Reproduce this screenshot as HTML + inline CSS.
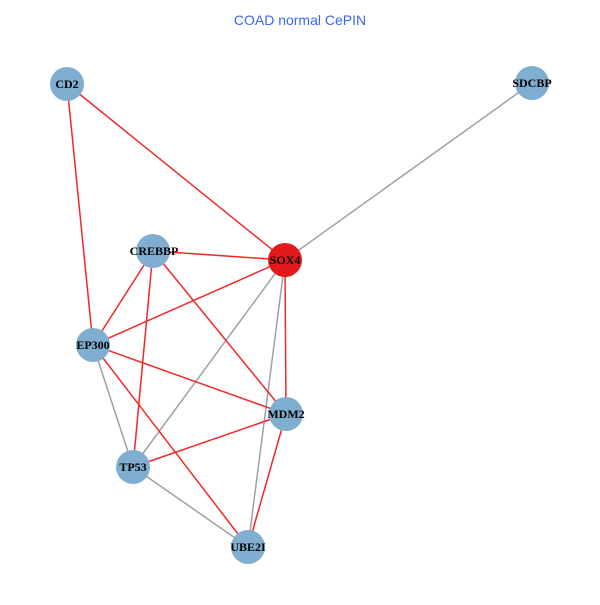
<!DOCTYPE html>
<html><head><style>body{margin:0;background:#fff}</style></head><body>
<svg width="600" height="600" xmlns="http://www.w3.org/2000/svg">
<rect width="600" height="600" fill="#fff"/>
<text x="300" y="25" text-anchor="middle" font-family="Liberation Sans, sans-serif" font-size="14" fill="#3a66f0">COAD normal CePIN</text>
<g stroke-width="1.5" fill="none">
<g stroke="#a0a0a0">
<line x1="532" y1="83" x2="285" y2="260"/>
<line x1="285" y1="260" x2="133" y2="467"/>
<line x1="285" y1="260" x2="248" y2="547"/>
<line x1="93" y1="345" x2="133" y2="467"/>
<line x1="133" y1="467" x2="248" y2="547"/>
</g>
<g stroke="#f02828">
<line x1="67" y1="84" x2="285" y2="260"/>
<line x1="67" y1="84" x2="93" y2="345"/>
<line x1="153" y1="251" x2="285" y2="260"/>
<line x1="153" y1="251" x2="93" y2="345"/>
<line x1="153" y1="251" x2="133" y2="467"/>
<line x1="153" y1="251" x2="286" y2="414"/>
<line x1="285" y1="260" x2="93" y2="345"/>
<line x1="285" y1="260" x2="286" y2="414"/>
<line x1="93" y1="345" x2="286" y2="414"/>
<line x1="93" y1="345" x2="248" y2="547"/>
<line x1="286" y1="414" x2="133" y2="467"/>
<line x1="286" y1="414" x2="248" y2="547"/>
</g>
</g>
<g fill="#80aed0">
<circle cx="67" cy="84" r="17"/>
<circle cx="532" cy="83" r="17"/>
<circle cx="153" cy="251" r="17"/>
<circle cx="93" cy="345" r="17"/>
<circle cx="286" cy="414" r="17"/>
<circle cx="133" cy="467" r="17"/>
<circle cx="248" cy="547" r="17"/>
</g>
<circle cx="285" cy="260" r="17" fill="#e31a1c"/>
<g font-family="Liberation Serif, serif" font-weight="bold" font-size="12" text-anchor="middle" fill="#000">
<text x="67" y="88">CD2</text>
<text x="532" y="87">SDCBP</text>
<text x="154" y="255">CREBBP</text>
<text x="285" y="264">SOX4</text>
<text x="93" y="349">EP300</text>
<text x="286" y="418">MDM2</text>
<text x="133" y="471">TP53</text>
<text x="248" y="551">UBE2I</text>
</g>
</svg>
</body></html>
